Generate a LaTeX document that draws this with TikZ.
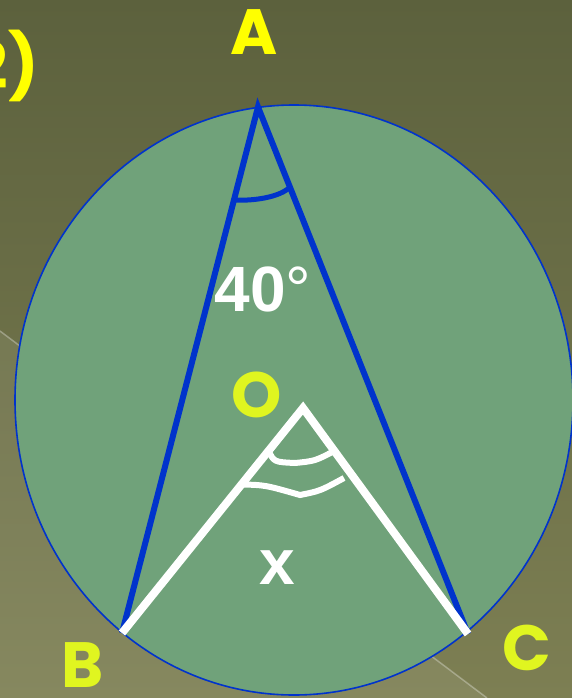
\documentclass[tikz,border=0pt]{standalone}
\usepackage{fontspec}
\setmainfont{Liberation Sans}
\newfontfamily\geofont{Poppins}
\usetikzlibrary{calc}
\definecolor{bgtop}{RGB}{92,97,61}
\definecolor{bgbot}{RGB}{125,127,83}
\definecolor{disc}{RGB}{112,162,122}
\definecolor{chord}{RGB}{0,51,204}
\definecolor{lblyellow}{RGB}{255,255,0}
\definecolor{lblgreen}{RGB}{224,245,32}

\begin{document}
\begin{tikzpicture}[x=1pt, y=-1pt,
    letter/.style={inner sep=0pt, font=\geofont\bfseries\fontsize{64}{64}\selectfont, text=lblgreen},
    bigtext/.style={inner sep=0pt, font=\bfseries\fontsize{64}{64}\selectfont, text=white},
    chordline/.style={chord, line width=6pt},
    radiusline/.style={white, line width=8pt}]
    \useasboundingbox (0,0) rectangle (572,698);
    \clip (0,0) rectangle (572,698);
    \shade[top color=bgtop, bottom color=bgbot] (0,0) rectangle (572,698);
    % lighter strip under the slanted line
    \fill[white, opacity=0.07] (0,331) -- (487,698) -- (0,698) -- cycle;
    \draw[white, opacity=0.3, line width=1.5pt] (0,331) -- (487,698);

    \coordinate (ctr) at (294,400);
    \filldraw[fill=disc, draw=chord, line width=1.6pt] (ctr) ellipse [x radius=279, y radius=295];

    \coordinate (A) at (258,107);
    \coordinate (B) at (122,633);
    \coordinate (C) at (468,634);
    \coordinate (O) at (303,408);

    \draw[chordline] (B) -- (A) -- (C);
    \draw[radiusline] (B) -- (O) -- (C);

    % angle marks
    \coordinate (aB) at ($(A)!0.177!(B)$);
    \coordinate (aC) at ($(A)!0.152!(C)$);
    \draw[chord, line width=5pt] (aB) .. controls (255,201) and (280,197) .. (aC);
    \coordinate (oB1) at ($(O)!0.19!(B)$);
    \coordinate (oC1) at ($(O)!0.19!(C)$);
    \coordinate (oB2) at ($(O)!0.34!(B)$);
    \coordinate (oC2) at (344,478);
    \draw[white, line width=6pt] (oB1) .. controls (274,462) .. (295,463) .. controls (315,461) .. (oC1);
    \draw[white, line width=6pt] (oB2) .. controls (265,485) .. (300,495) .. controls (320,491) .. (oC2);

    \node[letter, text=lblyellow] (labA) at (254,32) {A};
    \node[letter, text=lblyellow, anchor=east] (num) at (39,66) {2)};
    \node[letter] (labB) at (83,665) {B};
    \node[letter] (labC) at (527,648) {C};
    \node[letter] (labO) at (257,395) {O};
    \node[bigtext] (ang) at (263,289) {40{\mdseries °}};
    \node[bigtext] (labx) at (277,568) {x};
\end{tikzpicture}
\end{document}
